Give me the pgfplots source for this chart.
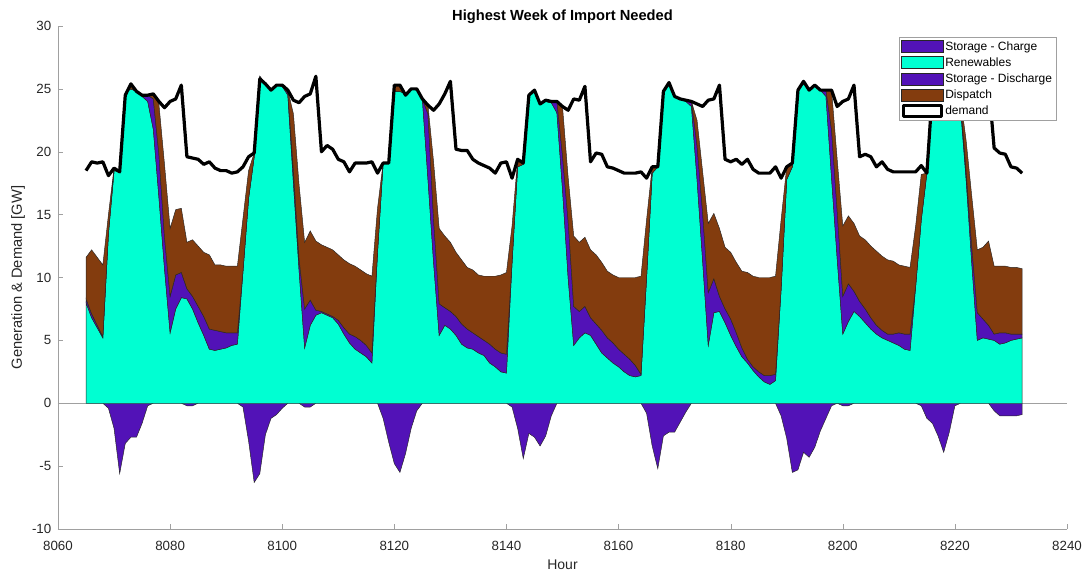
\documentclass[border=0pt]{standalone}
\usepackage{fontspec}
\setmainfont{Liberation Sans}
\usepackage{pgfplots}
\usepackage{pgfplotstable}
\pgfplotsset{compat=1.18}

\definecolor{chgc}{RGB}{82,18,183}
\definecolor{renc}{RGB}{0,255,210}
\definecolor{dispc}{RGB}{131,60,14}
\definecolor{axc}{RGB}{160,160,160}
\definecolor{txc}{RGB}{38,38,38}

% h: hour, chg: storage charge, ren: renewables, dis: storage discharge, disp: dispatch, dem: demand [GW]
\pgfplotstableread{
h chg ren dis disp dem
8065 0 8.0 0.3 3.3 18.5
8066 0 6.8 0.3 5.1 19.2
8067 0 6.0 0.2 5.4 19.1
8068 0 5.2 0.1 5.7 19.2
8069 -0.4 13.5 0 1.5 18.1
8070 -2.0 18.5 0 0.2 18.7
8071 -5.6 18.4 0 0 18.4
8072 -3.2 24.7 0 0 24.5
8073 -2.7 25.0 0 0.2 25.4
8074 -2.7 24.8 0 0 24.8
8075 -1.6 24.4 0 0.1 24.5
8076 -0.2 24.0 0.5 0 24.5
8077 0 21.8 2.4 0.4 24.6
8078 0 16.4 3.4 4.0 24.0
8079 0 10.7 2.5 5.8 23.5
8080 0 5.6 2.9 5.4 24.0
8081 0 7.5 2.7 5.2 24.2
8082 0 8.4 2.0 5.1 25.3
8083 -0.2 8.3 0.8 3.7 19.6
8084 -0.2 7.5 1.0 4.5 19.5
8085 0 6.4 1.3 4.8 19.4
8086 0 5.4 1.5 5.1 19.0
8087 0 4.3 1.6 5.9 19.2
8088 0 4.2 1.6 5.2 18.7
8089 0 4.3 1.4 5.3 18.5
8090 0 4.4 1.2 5.3 18.5
8091 0 4.6 1.0 5.3 18.3
8092 0 4.7 0.9 5.3 18.4
8093 -0.3 10.5 0 4.2 18.8
8094 -3.0 16.3 0 2.2 19.6
8095 -6.3 19.6 0 0.3 19.9
8096 -5.6 26.0 0 0 25.8
8097 -2.5 25.4 0 0 25.4
8098 -1.2 24.9 0 0 24.9
8099 -0.9 25.3 0 0 25.3
8100 -0.4 25.2 0 0.1 25.3
8101 0 24.5 0.2 0.2 24.9
8102 0 17.5 1.0 4.5 24.1
8103 0 10.6 0.9 5.9 23.9
8104 -0.3 4.4 3.1 5.3 24.4
8105 -0.3 6.2 2.0 5.5 24.6
8106 0 7.0 0.4 5.5 26.0
8107 0 7.2 0.1 5.3 20.0
8108 0 7.0 0.1 5.3 20.5
8109 0 6.8 0.1 5.3 20.2
8110 0 6.3 0.3 5.2 19.4
8111 0 5.5 0.5 5.4 19.2
8112 0 4.8 0.7 5.6 18.4
8113 0 4.3 1.0 5.6 19.1
8114 0 4.0 1.0 5.6 19.1
8115 0 3.7 0.9 5.7 19.1
8116 0 3.2 0.8 6.1 19.2
8117 0 12.0 0 3.5 18.3
8118 -1.2 19.1 0 0 19.1
8119 -3.1 19.1 0 0 19.1
8120 -4.8 24.8 0 0.5 25.3
8121 -5.5 24.8 0 0.5 25.3
8122 -4.0 24.6 0 0 24.5
8123 -2.0 25.0 0 0 25.0
8124 -0.6 24.9 0 0.1 25.0
8125 0 24.2 0 0 24.2
8126 0 17.8 5.2 0.7 23.7
8127 0 11.2 3.4 4.6 23.3
8128 0 5.4 2.5 6.0 23.8
8129 0 6.2 1.4 5.7 24.6
8130 0 5.9 1.4 5.5 25.6
8131 0 5.4 1.5 5.1 20.2
8132 0 4.7 1.6 5.1 20.1
8133 0 4.4 1.5 4.9 20.1
8134 0 4.3 1.3 5.0 19.4
8135 0 4.0 1.3 4.9 19.1
8136 0 3.8 1.2 5.1 18.9
8137 0 3.2 1.5 5.4 18.7
8138 0 2.9 1.4 5.8 18.3
8139 0 2.5 1.5 6.2 19.1
8140 0 2.4 1.5 6.5 19.2
8141 -0.3 11.2 0 2.9 17.9
8142 -2.0 18.8 0 0.6 19.4
8143 -4.4 19.0 0 0.1 19.1
8144 -2.4 24.5 0 0 24.5
8145 -2.7 24.9 0 0 24.9
8146 -3.4 23.8 0 0 23.8
8147 -2.6 24.0 0 0.1 24.1
8148 -1.0 23.9 0 0.1 24.0
8149 0 23.1 0.9 0 24.0
8150 0 17.0 2.7 3.9 23.6
8151 0 10.0 4.5 3.5 23.3
8152 0 4.6 3.1 5.6 24.2
8153 0 5.2 2.1 5.5 24.1
8154 0 5.6 2.1 5.5 25.2
8155 0 5.4 1.4 5.4 19.2
8156 0 4.7 1.6 5.5 19.9
8157 0 4.0 1.8 5.4 19.8
8158 0 3.6 1.6 5.3 18.8
8159 0 3.2 1.6 5.4 18.7
8160 0 2.9 1.4 5.7 18.5
8161 0 2.5 1.4 6.1 18.3
8162 0 2.2 1.3 6.5 18.3
8163 0 2.1 0.9 7.0 18.3
8164 0 2.2 0.1 7.8 18.4
8165 -0.8 10.0 0 4.6 17.9
8166 -3.4 18.3 0 0.5 18.8
8167 -5.2 18.8 0 0 18.8
8168 -2.6 24.8 0 0 24.8
8169 -2.3 25.4 0 0.1 25.5
8170 -2.3 24.4 0 0 24.4
8171 -1.5 24.2 0 0 24.2
8172 -0.7 24.0 0 0.1 24.1
8173 0 23.6 0.4 0 24.0
8174 0 17.8 2.7 2.0 23.8
8175 0 11.3 3.8 3.3 23.6
8176 0 4.6 4.2 5.5 24.1
8177 0 7.2 2.7 5.2 24.2
8178 0 7.3 1.2 5.4 25.3
8179 0 6.4 1.1 4.9 19.4
8180 0 5.4 1.3 5.3 19.2
8181 0 4.5 1.1 5.6 19.4
8182 0 3.7 0.7 6.1 19.0
8183 0 3.2 0.3 6.9 19.4
8184 0 2.6 0.3 7.2 18.6
8185 0 2.1 0.4 7.5 18.3
8186 0 1.7 0.5 7.8 18.3
8187 0 1.5 0.7 7.8 18.3
8188 0 1.8 0.5 7.8 18.8
8189 -1.0 9.1 0 5.5 17.9
8190 -2.8 17.8 0 1.0 18.8
8191 -5.5 18.8 0 0.3 19.1
8192 -5.3 24.9 0 0 24.9
8193 -3.9 25.5 0 0.1 25.6
8194 -4.3 24.9 0 0 24.9
8195 -3.5 25.2 0 0.1 25.3
8196 -2.2 24.9 0 0 24.9
8197 -1.2 24.4 0.5 0 24.9
8198 -0.2 17.9 3.8 3.2 24.9
8199 0 11.5 3.8 4.1 23.6
8200 -0.2 5.5 3.0 5.6 24.0
8201 -0.2 6.5 3.0 5.4 24.2
8202 0 7.3 1.6 5.4 25.3
8203 0 6.9 1.2 5.2 19.6
8204 0 6.4 1.1 5.5 19.8
8205 0 5.9 0.9 5.7 19.6
8206 0 5.5 0.7 5.9 18.8
8207 0 5.2 0.6 5.9 19.2
8208 0 5.0 0.5 5.9 18.6
8209 0 4.8 0.7 5.8 18.4
8210 0 4.6 1.0 5.4 18.4
8211 0 4.3 1.2 5.4 18.4
8212 0 4.2 1.3 5.3 18.4
8213 0 9.3 0 4.8 18.4
8214 -0.2 14.6 0 3.6 18.9
8215 -1.2 18.3 0 0 18.3
8216 -1.6 25.0 0 0 25.0
8217 -2.6 25.5 0 0 25.5
8218 -3.9 25.0 0 0 25.0
8219 -2.3 24.8 0 0 24.8
8220 -0.2 24.5 0 0 24.5
8221 0 23.5 0.5 0.3 24.3
8222 0 17.8 0.7 2.4 24.2
8223 0 11.2 1.3 4.0 24.5
8224 0 5.0 2.2 5.0 24.8
8225 0 5.2 1.5 5.7 25.0
8226 0 5.1 1.1 6.7 25.5
8227 -0.6 5.0 0.5 5.4 20.3
8228 -1.0 4.7 0.9 5.3 19.9
8229 -1.0 4.8 0.8 5.3 19.8
8230 -1.0 5.0 0.5 5.3 18.8
8231 -1.0 5.1 0.4 5.3 18.7
8232 -0.9 5.2 0.3 5.2 18.3
}\weekdata

\begin{document}
\begin{tikzpicture}
\useasboundingbox (-43.5pt,-34.5pt) rectangle (772.5pt,396.75pt);
\begin{axis}[
    at={(0,0)}, anchor=south west,
    scale only axis,
    width=756.75pt, height=377.25pt,
    xmin=8060, xmax=8240, ymin=-10, ymax=30,
    xtick={8060,8080,...,8240},
    ytick={-10,-5,...,30},
    axis lines=left,
    axis line style={-, draw=axc},
    tick align=inside,
    tick style={draw=axc},
    major tick length=4pt,
    extra y ticks={0},
    extra y tick labels={},
    extra y tick style={grid=major, major grid style={draw=axc, line width=0.5pt}, major tick length=0pt},
    /pgf/number format/assume math mode=true,
    tick label style={font=\fontsize{10}{12}\selectfont, text=txc},
    xticklabel style={/pgf/number format/1000 sep={}, anchor=base, yshift=-16pt},
    yticklabel style={anchor=east, xshift=-1.5pt},
    title={Highest Week of Import Needed},
    title style={font=\bfseries\fontsize{11}{13}\selectfont, at={(axis description cs:0.5,1.01)}, anchor=base, yshift=-6pt},
    xlabel={Hour},
    xlabel style={font=\fontsize{10.5}{12}\selectfont, text=txc, at={(axis description cs:0.5,-0.0805)}, anchor=base},
    ylabel={Generation \& Demand [GW]},
    ylabel style={font=\fontsize{11}{13}\selectfont, text=txc, at={(axis description cs:-0.0396,0.5)}, anchor=center},
    legend style={at={(axis description cs:0.990,0.978)}, anchor=north east,
        draw=axc, fill=white, font=\fontsize{9}{10}\selectfont,
        inner xsep=2pt, inner ysep=1.5pt, row sep=1pt,
        nodes={inner sep=1.5pt}},
    legend cell align=left,
    area/.style={draw=black!85, line width=0.35pt,
        legend image code/.code={\draw[##1] (0pt,-4.5pt) rectangle (31pt,4.5pt);}},
]
\addplot[area, fill=chgc] table[x=h, y=chg] {\weekdata} \closedcycle;
\addplot[area, fill=renc, stack plots=y] table[x=h, y=ren] {\weekdata} \closedcycle;
\addplot[area, fill=chgc, stack plots=y] table[x=h, y=dis] {\weekdata} \closedcycle;
\addplot[area, fill=dispc, stack plots=y] table[x=h, y=disp] {\weekdata} \closedcycle;
\addplot[black, line width=2.4pt, line join=round,
    legend image code/.code={\draw[black, line width=2.2pt, fill=white] (1pt,-4pt) rectangle (30pt,4pt);}]
    table[x=h, y=dem] {\weekdata};
\legend{Storage - Charge, Renewables, Storage - Discharge, Dispatch, demand}
\end{axis}
\end{tikzpicture}
\end{document}
